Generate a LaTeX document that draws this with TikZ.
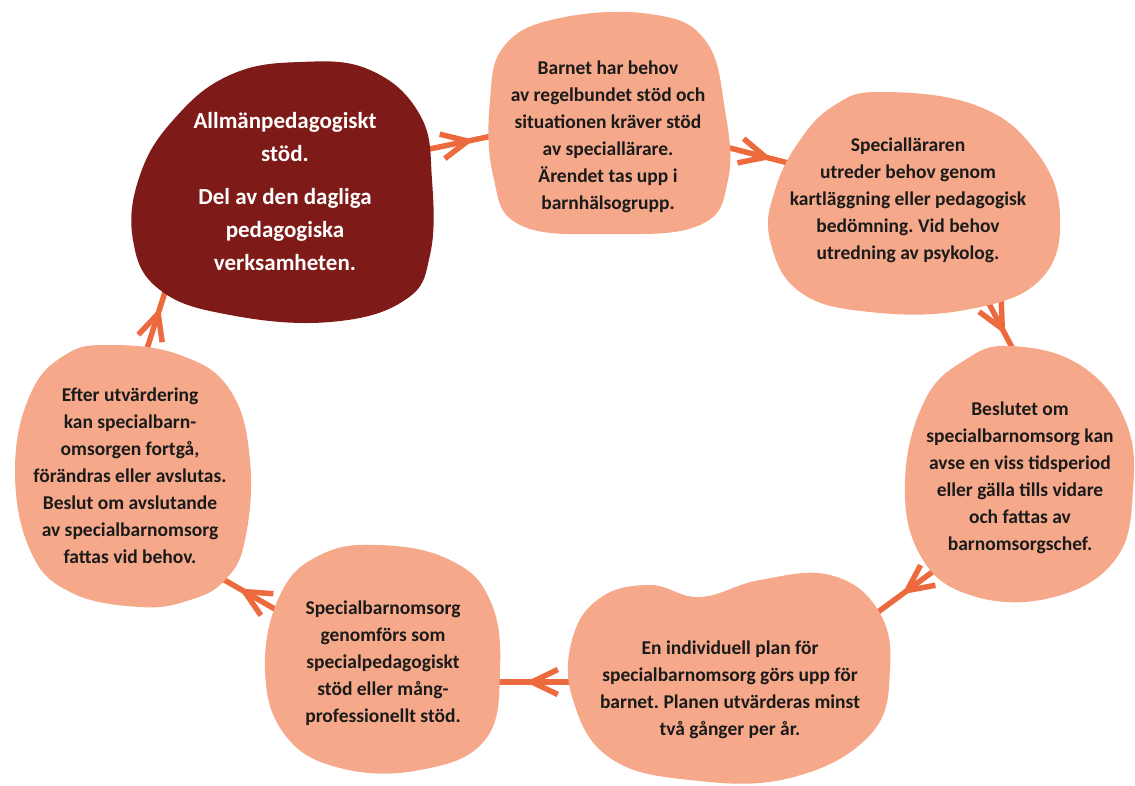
\documentclass[tikz,border=0pt]{standalone}
\usepackage{fontspec}
\setmainfont{Carlito}
\usetikzlibrary{arrows.meta,decorations.markings}
\definecolor{Maroon}{HTML}{7E1A17}
\definecolor{Peach}{HTML}{F5A98A}
\definecolor{Coral}{HTML}{EC6A3E}
\definecolor{Ink}{HTML}{1A1A1A}
\frenchspacing

\begin{document}
\begin{tikzpicture}[
  x=1pt,
  y=-1pt,
  blob/.style={fill=Peach,draw=none},
  dark blob/.style={fill=Maroon,draw=none},
  txt/.style={align=center,text=Ink,inner sep=0pt,font=\bfseries\fontsize{19.5}{27}\selectfont},
  dark txt/.style={txt,text=white,font=\bfseries\fontsize{23}{33}\selectfont},
  flow/.style={draw=Coral,line width=5.5pt,line cap=round,postaction={decorate},
    decoration={markings,mark=at position #1 with {\arrow[line width=5.5pt,line cap=round,line join=round]{Straight Barb[length=26pt,width=25pt]}}}}
]
  \useasboundingbox (0,0) rectangle (1135,785);

  % connector ends
  \coordinate (a1) at (420,151);
  \coordinate (b1) at (497,135);
  \coordinate (a2) at (722,146);
  \coordinate (b2) at (800,166);
  \coordinate (a3) at (986,298);
  \coordinate (b3) at (1016,355);
  \coordinate (a4) at (935,570);
  \coordinate (b4) at (878,612);
  \coordinate (a5) at (572,682);
  \coordinate (b5) at (497,682);
  \coordinate (a6) at (280,612);
  \coordinate (b6) at (214,574);
  \coordinate (a7) at (146,352);
  \coordinate (b7) at (165,292);
  \foreach \s/\t/\p in {a1/b1/0.7,a2/b2/0.64,a3/b3/0.64,a4/b4/0.58,a5/b5/0.62,a6/b6/0.62,a7/b7/0.74}
    \draw[flow=\p] (\s) -- (\t);

  % blobs
  \fill[dark blob] plot[smooth cycle,tension=0.7] coordinates {(300,62) (370,70) (420,115) (432,180) (430,255) (405,300) (330,322) (230,315) (160,290) (133,240) (140,175) (175,118) (230,75)};
  \fill[blob] plot[smooth cycle,tension=0.7] coordinates {(560,18) (650,14) (705,40) (725,110) (728,180) (700,225) (610,234) (520,225) (493,175) (490,100) (505,45)};
  \fill[blob] plot[smooth cycle,tension=0.7] coordinates {(880,92) (975,105) (1035,150) (1060,215) (1040,280) (965,310) (870,312) (800,292) (770,240) (775,190) (800,140) (835,105)};
  \fill[blob] plot[smooth cycle,tension=0.7] coordinates {(1010,346) (1080,365) (1125,420) (1133,490) (1115,560) (1050,598) (970,595) (920,555) (905,480) (925,400) (965,360)};
  \fill[blob] plot[smooth cycle,tension=0.7] coordinates {(600,598) (650,585) (700,597) (760,580) (830,575) (878,610) (890,670) (870,735) (790,778) (690,780) (610,758) (573,700) (572,640)};
  \fill[blob] plot[smooth cycle,tension=0.7] coordinates {(380,545) (450,560) (490,600) (500,670) (485,740) (420,770) (340,768) (285,735) (265,670) (280,595) (320,555)};
  \fill[blob] plot[smooth cycle,tension=0.7] coordinates {(110,345) (180,355) (230,390) (250,460) (245,540) (225,580) (190,600) (140,607) (70,592) (30,550) (15,470) (30,395) (65,355)};

  % texts
  \node[dark txt] (stod) at (285,192) {Allmänpedagogiskt\\stöd.\\[10pt]Del av den dagliga\\pedagogiska\\verksamheten.};
  \node[txt] (barnet) at (608,137) {Barnet har behov\\av regelbundet stöd och\\situationen kräver stöd\\av speciallärare.\\Ärendet tas upp i\\barnhälsogrupp.};
  \node[txt] (utreder) at (908,200) {Specialläraren\\utreder behov genom\\kartläggning eller pedagogisk\\bedömning. Vid behov\\utredning av psykolog.};
  \node[txt] (beslut) at (1020,478) {Beslutet om\\specialbarnomsorg kan\\avse en viss tidsperiod\\eller gälla tills vidare\\och fattas av\\barnomsorgschef.};
  \node[txt] (plan) at (730,690) {En individuell plan för\\specialbarnomsorg görs upp för\\barnet. Planen utvärderas minst\\två gånger per år.};
  \node[txt] (genomfors) at (383,663) {Specialbarnomsorg\\genomförs som\\specialpedagogiskt\\stöd eller mång-\\professionellt stöd.};
  \node[txt] (efter) at (130,476) {Efter utvärdering\\kan specialbarn-\\omsorgen fortgå,\\förändras eller avslutas.\\Beslut om avslutande\\av specialbarnomsorg\\fattas vid behov.};
\end{tikzpicture}
\end{document}
